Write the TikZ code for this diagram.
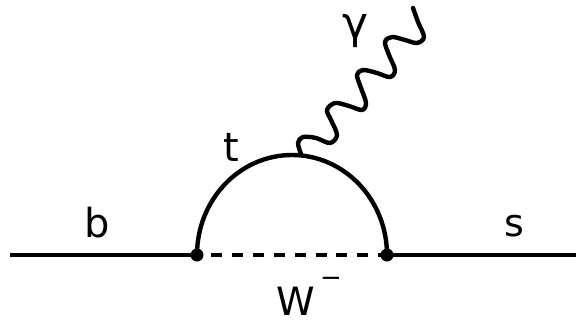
\documentclass[tikz,border=0pt]{standalone}
\usepackage{fontspec}
\setmainfont{DejaVu Sans}
\tikzset{
  x=1pt,y=-1pt,
  fermion/.style={line width=4.4pt,black},
  boson/.style={line width=4.4pt,black,dash pattern=on 11pt off 9.9pt},
  photon/.style={line width=4.4pt,black,line cap=round,line join=round},
  vertexdot/.style={circle,fill=black,inner sep=0pt,minimum size=13pt},
  lab/.style={inner sep=0pt,text=black}
}
\begin{document}
\begin{tikzpicture}
\useasboundingbox (0,0) rectangle (577,324);
\coordinate (L) at (10,255);
\coordinate (R) at (576,255);
\node[vertexdot] (A) at (197,255) {};
\node[vertexdot] (B) at (387,255) {};
\draw[fermion] (L) -- (A.center);
\draw[fermion] (B.center) -- (R);
\draw[boson] ([xshift=14pt]A.center) -- (B.center);
\draw[fermion] (A.center) arc[start angle=180,end angle=0,x radius=95pt,y radius=100pt];
\draw[photon] plot[smooth,tension=0.55] coordinates {(301,154) (298,143) (303,137) (316,138) (330,143) (337,135) (331,120) (327,110) (335,103) (349,106) (362,110) (366,103) (361,88) (357,75) (363,70) (377,73) (390,77) (395,70) (389,55) (385,42) (392,37) (405,40) (417,43) (424,37) (418,22) (413,8)};
\node[lab,font=\fontsize{40}{40}\selectfont] (lb) at (97,223) {b};
\node[lab,font=\fontsize{40}{40}\selectfont] (lt) at (231,147) {t};
\node[lab,font=\fontsize{38}{38}\selectfont] (ls) at (514,226) {s};
\node[lab,font=\fontsize{39}{39}\selectfont] (lw) at (296,301) {W};
\node[lab,font=\fontsize{26}{26}\selectfont] (lm) at (331,282) {−};
\node[lab,font=\fontsize{44}{44}\selectfont] (lg) at (356,31) {γ};
\end{tikzpicture}
\end{document}
